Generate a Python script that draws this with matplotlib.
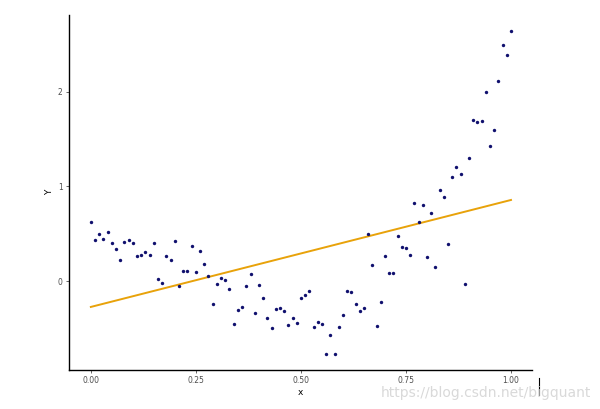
import matplotlib
matplotlib.use('Agg')
import matplotlib.pyplot as plt
from matplotlib.lines import Line2D
import numpy as np

# data (x = 0.00 .. 1.00 in steps of 0.01)
x = np.round(np.arange(101) * 0.01, 2)
y = [0.62, 0.43, 0.50, 0.44, 0.52, 0.405, 0.335, 0.225, 0.41, 0.43,
     0.40, 0.26, 0.275, 0.31, 0.275, 0.40, 0.02, -0.02, 0.265, 0.22,
     0.42, -0.055, 0.105, 0.105, 0.37, 0.10, 0.32, 0.18, 0.055, -0.24,
     -0.03, 0.03, 0.01, -0.08, -0.45, -0.31, -0.27, -0.05, 0.07, -0.335,
     -0.04, -0.18, -0.39, -0.50, -0.30, -0.29, -0.32, -0.46, -0.39, -0.44,
     -0.18, -0.15, -0.105, -0.49, -0.43, -0.45, -0.77, -0.57, -0.77, -0.49,
     -0.36, -0.105, -0.12, -0.24, -0.32, -0.28, 0.50, 0.17, -0.47, -0.22,
     0.265, 0.08, 0.08, 0.48, 0.355, 0.35, 0.27, 0.82, 0.62, 0.80,
     0.25, 0.72, 0.145, 0.96, 0.89, 0.39, 1.10, 1.20, 1.13, -0.035,
     1.30, 1.70, 1.68, 1.69, 2.00, 1.43, 1.60, 2.11, 2.49, 2.39,
     2.64]
xticks = [0.00, 0.25, 0.50, 0.75, 1.00]
xticklabels = ['0.00', '0.25', '0.50', '0.75', '1.00']
yticks = [0, 1, 2]

# linear fit, like geom_smooth(method='lm')
slope, intercept = np.polyfit(x, y, 1)
xfit = np.array([x.min(), x.max()])

fig = plt.figure(figsize=(6.0, 4.09), dpi=100)
ax = fig.add_axes([69/600, 1 - 370/409, (532-69)/600, (370-15)/409])

ax.scatter(x, y, s=6, color='#10106e', zorder=3, linewidths=0)
ax.plot(xfit, intercept + slope * xfit, color='#e8a20a', linewidth=1.4, zorder=2)

ax.set_xlim(-0.052, 1.05)
ax.set_ylim(-0.94, 2.81)
ax.set_xticks(xticks)
ax.set_xticklabels(xticklabels)
ax.set_yticks(yticks)

for s in ['top', 'right']:
    ax.spines[s].set_visible(False)
for s in ['left', 'bottom']:
    ax.spines[s].set_linewidth(1.0)
    ax.spines[s].set_color('black')
ax.tick_params(length=2.5, width=0.6, color='#4d4d4d', labelsize=5.5,
               labelcolor='#4d4d4d', pad=2)

ax.set_xlabel('x', fontsize=6.5, labelpad=2)
ax.set_ylabel('Y', fontsize=6.5, labelpad=3)

# watermark
fig.text(0.985, 1 - 393/409, 'https://blog.csdn.net/bigquant', ha='right', va='center',
         fontsize=10, color='#d9d9d9')
fig.add_artist(Line2D([539/600, 539/600], [1 - 378/409, 1 - 395/409],
                      color='black', linewidth=0.8))

plt.savefig('out.png', dpi=100)
